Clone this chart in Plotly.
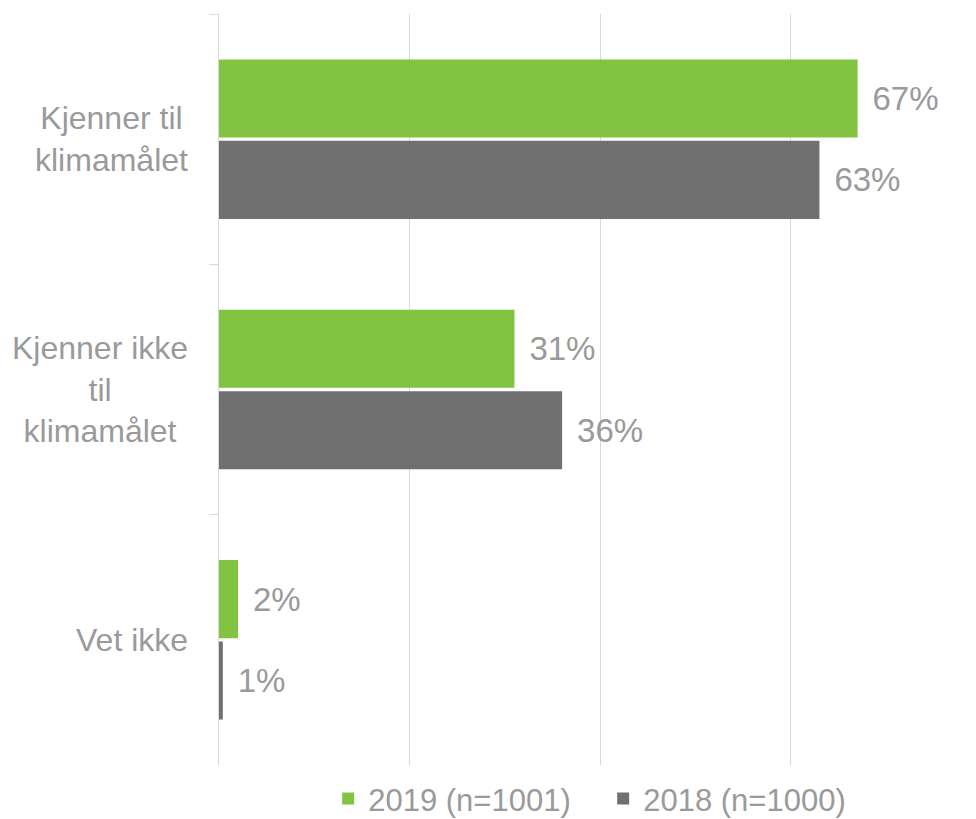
import plotly.graph_objects as go

categories = ["Kjenner til klimamålet", "Kjenner ikke til klimamålet", "Vet ikke"]
category_labels = ["Kjenner til<br>klimamålet", "Kjenner ikke<br>til<br>klimamålet", "Vet ikke"]
series_names = ["2019 (n=1001)", "2018 (n=1000)"]
values_2019 = [0.67, 0.31, 0.02]
values_2018 = [0.63, 0.36, 0.004]
labels_2019 = ["67%", "31%", "2%"]
labels_2018 = ["63%", "36%", "1%"]

GREEN = "#82C341"
GRAY = "#707070"
TEXT = "#9a9a9a"
GRID = "#d9d9d9"
FONT = "Liberation Sans, Arial, sans-serif"

fig = go.Figure()
for name, vals, labs, col in [
    (series_names[0], values_2019, labels_2019, GREEN),
    (series_names[1], values_2018, labels_2018, GRAY),
]:
    fig.add_trace(go.Bar(
        y=categories, x=vals, orientation="h", name=name,
        marker=dict(color=col, line=dict(width=0)),
        text=["\u00a0\u200a" + t for t in labs],
        textposition="outside", cliponaxis=False,
        textfont=dict(family=FONT, size=33, color=TEXT),
    ))

for cat, lab in zip(categories, category_labels):
    fig.add_annotation(
        x=0, xref="paper", xanchor="right", xshift=-29,
        y=cat, yref="y", yanchor="middle",
        text=lab, showarrow=False, align="center",
        font=dict(family=FONT, size=32, color=TEXT),
    )

fig.update_layout(
    width=968, height=811,
    paper_bgcolor="white", plot_bgcolor="white",
    margin=dict(l=211, r=66, t=6, b=54, autoexpand=False),
    barmode="group", bargap=0.35, bargroupgap=0.04,
    font=dict(family=FONT, size=30, color=TEXT),
    showlegend=True,
    legend=dict(
        orientation="h", x=0.158, xanchor="left", y=-0.009, yanchor="top",
        font=dict(family=FONT, size=31, color=TEXT),
        traceorder="normal", itemwidth=30,
        entrywidth=230, entrywidthmode="pixels",
    ),
)
fig.update_xaxes(
    range=[0, 0.725], tickvals=[0, 0.2, 0.4, 0.6], showticklabels=False,
    showgrid=True, gridcolor=GRID, gridwidth=1, zeroline=False, showline=False,
    ticks="",
)
fig.update_yaxes(
    autorange="reversed", showticklabels=False, showgrid=False,
    showline=True, linecolor=GRID, linewidth=1,
    ticks="outside", tickson="boundaries", ticklen=9, tickcolor=GRID,
)

fig.write_html("out.html")
